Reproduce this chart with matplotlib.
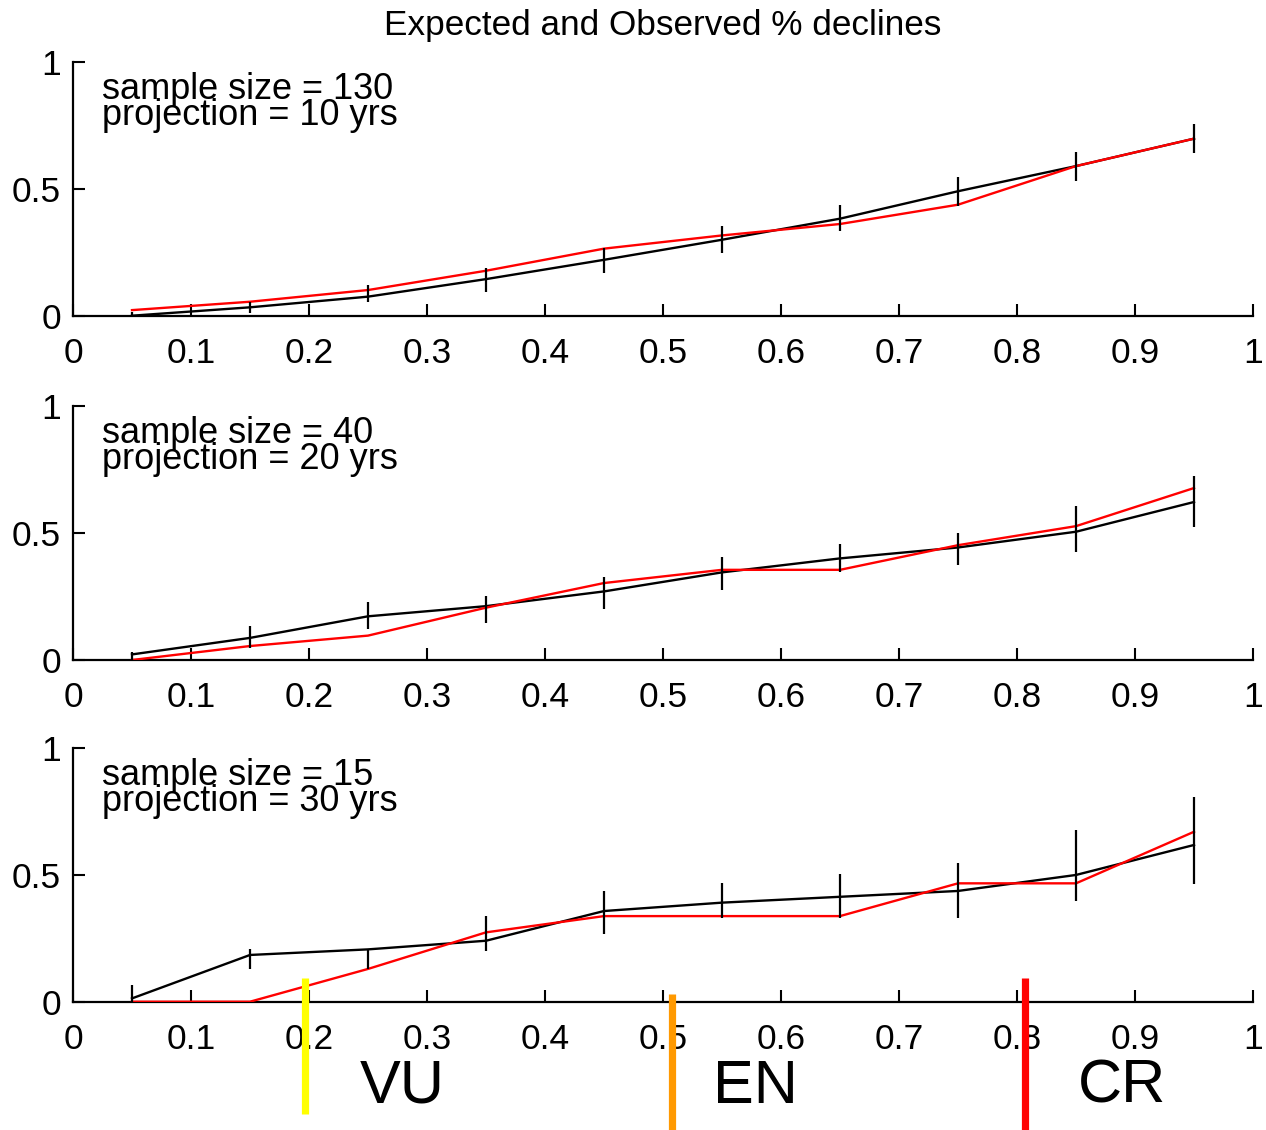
import matplotlib
matplotlib.use("Agg")
import matplotlib.pyplot as plt
import numpy as np

plt.rcParams["font.family"] = ["Liberation Sans", "DejaVu Sans"]

# true decline classes (bin centres)
x_bins = [0.05, 0.15, 0.25, 0.35, 0.45, 0.55, 0.65, 0.75, 0.85, 0.95]

# panel 1: n = 130, 10-year projection
obs_130 = [0.0, 0.033, 0.075, 0.144, 0.22, 0.299, 0.382, 0.49, 0.589, 0.697]
lo_130 = [0.0, 0.009, 0.053, 0.095, 0.17, 0.246, 0.335, 0.433, 0.53, 0.639]
hi_130 = [0.016, 0.055, 0.121, 0.187, 0.266, 0.354, 0.437, 0.547, 0.646, 0.754]
exp_130 = [0.022, 0.055, 0.101, 0.177, 0.264, 0.316, 0.361, 0.437, 0.589, 0.697]

# panel 2: n = 40, 20-year projection
obs_40 = [0.022, 0.087, 0.172, 0.212, 0.27, 0.345, 0.40, 0.443, 0.505, 0.622]
lo_40 = [0.0, 0.048, 0.122, 0.146, 0.199, 0.276, 0.348, 0.374, 0.426, 0.523]
hi_40 = [0.03, 0.133, 0.23, 0.251, 0.326, 0.404, 0.456, 0.499, 0.605, 0.723]
exp_40 = [0.0, 0.055, 0.096, 0.206, 0.303, 0.355, 0.355, 0.452, 0.527, 0.677]

# panel 3: n = 15, 30-year projection
obs_15 = [0.013, 0.184, 0.206, 0.24, 0.357, 0.39, 0.413, 0.436, 0.499, 0.617]
lo_15 = [0.0, 0.127, 0.127, 0.20, 0.266, 0.331, 0.331, 0.331, 0.396, 0.462]
hi_15 = [0.066, 0.207, 0.206, 0.339, 0.436, 0.468, 0.501, 0.545, 0.676, 0.804]
exp_15 = [0.0, 0.0, 0.129, 0.273, 0.337, 0.337, 0.337, 0.466, 0.466, 0.669]

sample_sizes = [130, 40, 15]
projections = [10, 20, 30]

x_ticks = [0, 0.1, 0.2, 0.3, 0.4, 0.5, 0.6, 0.7, 0.8, 0.9, 1]
x_tick_labels = ["0", "0.1", "0.2", "0.3", "0.4", "0.5", "0.6", "0.7", "0.8", "0.9", "1"]
y_ticks = [0, 0.5, 1]
y_tick_labels = ["0", "0.5", "1"]

# IUCN category thresholds and labels
cat_names = ["VU", "EN", "CR"]
cat_x = [0.197, 0.508, 0.807]
cat_top = [0.093, 0.030, 0.093]
cat_bottom = [-0.442, -0.7, -0.7]
cat_colors = ["#ffff00", "#ff9900", "#ff0000"]
cat_label_x = [0.243, 0.542, 0.852]

panels = [
    (obs_130, lo_130, hi_130, exp_130),
    (obs_40, lo_40, hi_40, exp_40),
    (obs_15, lo_15, hi_15, exp_15),
]

W, H = 1266, 1130
fig = plt.figure(figsize=(W / 100, H / 100), dpi=100)

left = 73 / W
width = 1180 / W
height = 254 / H
zero_rows = [315.7, 660.0, 1001.7]

axes = []
for i, (obs, lo, hi, exp) in enumerate(panels):
    ax = fig.add_axes([left, 1 - zero_rows[i] / H, width, height])
    axes.append(ax)
    obs = np.array(obs)
    yerr = [obs - np.array(lo), np.array(hi) - obs]
    ax.plot(x_bins, obs, color="black", lw=1.7, zorder=3)
    ax.plot(x_bins, exp, color="#ff0000", lw=1.7, zorder=4)
    ax.errorbar(x_bins, obs, yerr=yerr, fmt="none", ecolor="black",
                elinewidth=1.6, capsize=0, zorder=5)

    ax.set_xlim(0, 1)
    ax.set_ylim(0, 1)
    for s in ("top", "right"):
        ax.spines[s].set_visible(False)
    for s in ("left", "bottom"):
        ax.spines[s].set_linewidth(1.6)
    ax.set_xticks(x_ticks)
    ax.set_xticklabels(x_tick_labels)
    ax.set_yticks(y_ticks)
    ax.set_yticklabels(y_tick_labels)
    ax.tick_params(axis="both", direction="in", length=8.5, width=1.5,
                   labelsize=25.5)
    ax.tick_params(axis="x", pad=15)
    ax.tick_params(axis="y", pad=8.5)

    ax.text(0.025, 0.855, f"sample size = {sample_sizes[i]}", fontsize=26,
            va="baseline", ha="left")
    ax.text(0.025, 0.752, f"projection = {projections[i]} yrs", fontsize=26,
            va="baseline", ha="left")

fig.text(663 / W, 1 - 35 / H, "Expected and Observed % declines",
         fontsize=25.3, ha="center", va="baseline")

ax3 = axes[-1]
for name, xc, top, bot, col, lx in zip(cat_names, cat_x, cat_top, cat_bottom,
                                       cat_colors, cat_label_x):
    ax3.plot([xc, xc], [top, bot], color=col, lw=5.2, clip_on=False,
             solid_capstyle="butt", zorder=6)
    ax3.text(lx, -0.398, name, fontsize=44, ha="left", va="baseline",
             clip_on=False)

fig.savefig("out.png", dpi=100)
